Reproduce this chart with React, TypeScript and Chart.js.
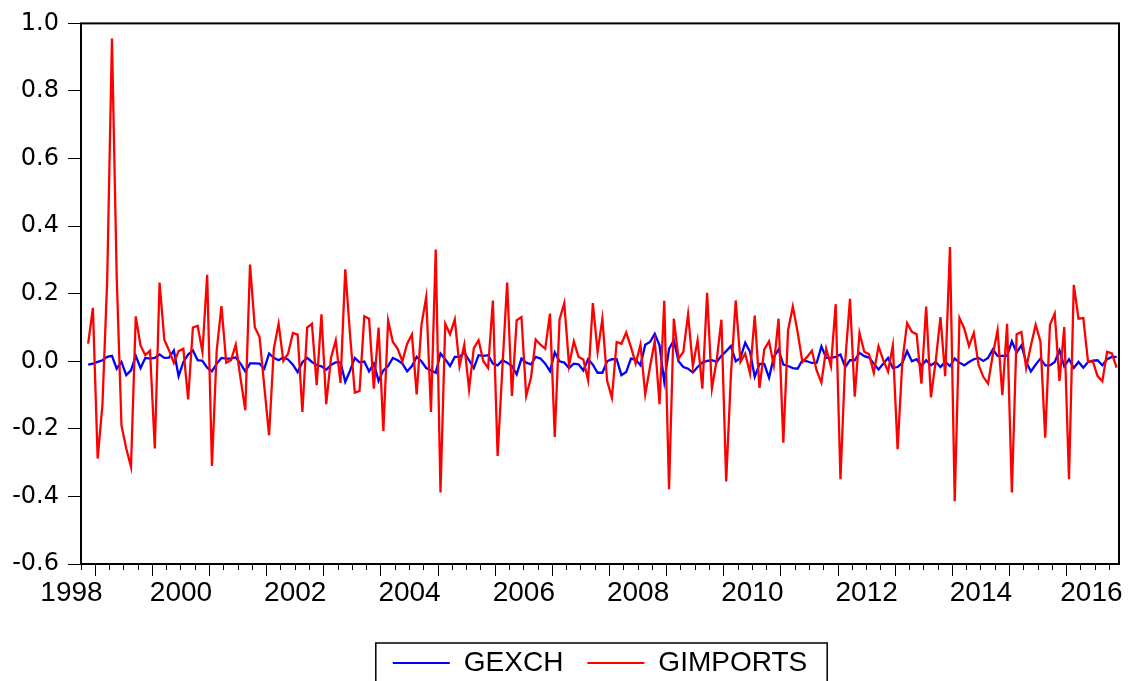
import React, { useEffect, useRef } from "react";
import { Chart, registerables } from "chart.js";

Chart.register(...registerables);

// ---- data ----
const startYear = 1998;
const startMonth = 11; // first observation: 1998M11
const seriesNames = ["GEXCH", "GIMPORTS"];
const yearLabels = ["1998", "2000", "2002", "2004", "2006", "2008", "2010", "2012", "2014", "2016"];
const yTickValues = [-0.6, -0.4, -0.2, 0.0, 0.2, 0.4, 0.6, 0.8, 1.0];

const gexch: number[] = [
  -0.010, -0.007, -0.002, 0.003, 0.013, 0.016, -0.022, -0.002, -0.041, -0.027, 0.016, -0.020,
  0.010, 0.008, 0.010, 0.020, 0.010, 0.011, 0.032, -0.044, -0.002, 0.020, 0.032, 0.003,
  0.001, -0.019, -0.030, -0.007, 0.010, 0.008, 0.008, 0.012, -0.007, -0.030, -0.006, -0.006,
  -0.007, -0.022, 0.023, 0.010, 0.003, 0.012, 0.005, -0.010, -0.032, -0.003, 0.010, -0.002,
  -0.011, -0.015, -0.025, -0.011, -0.003, -0.003, -0.061, -0.028, 0.010, -0.003, -0.001, -0.030,
  -0.007, -0.058, -0.027, -0.014, 0.010, 0.003, -0.007, -0.030, -0.014, 0.013, 0.000, -0.020,
  -0.027, -0.034, 0.023, 0.006, -0.014, 0.013, 0.013, 0.026, 0.003, -0.020, 0.018, 0.016,
  0.018, -0.007, -0.012, 0.003, -0.004, -0.014, -0.039, 0.008, -0.004, -0.009, 0.013, 0.008,
  -0.007, -0.029, 0.026, 0.000, -0.004, -0.020, -0.007, -0.009, -0.027, 0.006, -0.010, -0.034,
  -0.034, 0.000, 0.006, 0.006, -0.041, -0.032, 0.008, 0.005, -0.012, 0.049, 0.057, 0.081,
  0.047, -0.061, 0.037, 0.062, 0.000, -0.017, -0.022, -0.033, -0.017, -0.004, 0.001, 0.003,
  -0.002, 0.016, 0.030, 0.045, 0.000, 0.010, 0.055, 0.028, -0.046, -0.008, -0.008, -0.049,
  0.013, 0.035, -0.010, -0.014, -0.020, -0.022, 0.003, 0.000, -0.005, -0.005, 0.044, 0.010,
  0.010, 0.013, 0.020, -0.017, 0.003, 0.003, 0.025, 0.015, 0.011, -0.007, -0.024, -0.007,
  0.010, -0.020, -0.017, -0.005, 0.030, 0.000, 0.006, -0.014, 0.003, -0.012, -0.002, -0.017,
  -0.002, -0.014, 0.008, -0.004, -0.012, -0.002, 0.006, 0.010, 0.001, 0.010, 0.035, 0.016,
  0.016, 0.016, 0.059, 0.026, 0.047, -0.002, -0.030, -0.010, 0.008, -0.012, -0.012, -0.002,
  0.032, -0.015, 0.006, -0.020, -0.002, -0.019, -0.002, 0.002, 0.003, -0.012, 0.006, 0.013,
  0.013,
];

const gimports: number[] = [
  0.052, 0.158, -0.288, -0.130, 0.240, 0.955, 0.250, -0.190, -0.258, -0.312, 0.133, 0.047,
  0.018, 0.031, -0.258, 0.233, 0.064, 0.032, -0.005, 0.030, 0.037, -0.113, 0.100, 0.105,
  0.028, 0.256, -0.310, 0.032, 0.163, -0.004, 0.003, 0.049, -0.050, -0.145, 0.286, 0.101,
  0.072, -0.075, -0.219, 0.037, 0.111, 0.001, 0.023, 0.084, 0.079, -0.150, 0.100, 0.111,
  -0.071, 0.139, -0.127, 0.010, 0.062, -0.064, 0.272, 0.080, -0.093, -0.088, 0.133, 0.126,
  -0.081, 0.100, -0.206, 0.121, 0.057, 0.037, 0.000, 0.052, 0.079, -0.098, 0.108, 0.190,
  -0.150, 0.331, -0.388, 0.111, 0.080, 0.124, -0.015, 0.049, -0.083, 0.039, 0.062, 0.000,
  -0.020, 0.180, -0.280, -0.020, 0.233, -0.103, 0.121, 0.131, -0.103, -0.049, 0.064, 0.049,
  0.037, 0.141, -0.224, 0.124, 0.172, -0.012, 0.059, 0.013, 0.005, -0.056, 0.172, 0.028,
  0.126, -0.058, -0.108, 0.057, 0.052, 0.085, 0.042, -0.007, 0.049, -0.098, -0.017, 0.060,
  -0.127, 0.179, -0.379, 0.126, 0.008, 0.028, 0.139, -0.015, 0.062, -0.081, 0.203, -0.081,
  0.003, 0.123, -0.356, -0.040, 0.180, -0.002, 0.023, -0.036, 0.135, -0.079, 0.035, 0.059,
  -0.012, 0.126, -0.241, 0.092, 0.162, 0.087, -0.002, 0.013, 0.031, -0.027, -0.063, 0.037,
  -0.015, 0.169, -0.349, 0.000, 0.185, -0.105, 0.084, 0.028, 0.021, -0.034, 0.044, 0.003,
  -0.030, 0.047, -0.260, 0.000, 0.113, 0.087, 0.080, -0.066, 0.162, -0.107, 0.000, 0.131,
  -0.044, 0.338, -0.414, 0.128, 0.097, 0.045, 0.084, -0.010, -0.046, -0.066, 0.020, 0.092,
  -0.100, 0.111, -0.388, 0.080, 0.087, -0.020, 0.047, 0.108, 0.059, -0.226, 0.108, 0.141,
  -0.058, 0.101, -0.349, 0.226, 0.126, 0.128, -0.002, 0.000, -0.044, -0.059, 0.028, 0.023,
  -0.019,
];

// month labels (categories) for every observation
const months: string[] = gexch.map((_, i) => {
  const m = startMonth - 1 + i;
  return `${startYear + Math.floor(m / 12)}M${String((m % 12) + 1).padStart(2, "0")}`;
});

// ---- styling ----
const AXIS_FONT = "'Liberation Sans', Arial, sans-serif";
const Y_FONT = "'DejaVu Sans', 'Liberation Sans', sans-serif";

type XTick = { value: number; kind: "year" | "quarter" | "label"; lbl?: string };

function buildXTicks(min: number, max: number): XTick[] {
  const marks: XTick[] = [];
  for (let i = Math.ceil(min); i <= Math.floor(max) + 1; i++) {
    const v = i - 0.5; // boundary between observation i-1 and i
    if (v < min - 1e-9 || v > max + 1e-9) continue;
    const mAbs = startMonth - 1 + i;
    const mon = ((mAbs % 12) + 12) % 12;
    if (mon % 3 !== 0) continue;
    marks.push({ value: v, kind: mon === 0 ? "year" : "quarter" });
  }
  const labels: XTick[] = yearLabels.map((y) => {
    const yr = Number(y);
    // centre of the year (1 July boundary)
    let c = (yr - startYear) * 12 + 6 - (startMonth - 1) - 0.5;
    c = Math.max(c, min - 2);
    c = Math.min(c, max - 5.8);
    return { value: c, kind: "label", lbl: y };
  });
  return [...marks, ...labels];
}

const framePlugin = {
  id: "eviewsFrame",
  afterDraw(chart: any) {
    const { ctx, chartArea: a } = chart;
    ctx.save();
    ctx.strokeStyle = "#000";
    ctx.lineWidth = 2;
    ctx.strokeRect(a.left, a.top, a.right - a.left, a.bottom - a.top);
    const lg = chart.legend;
    if (lg && lg.legendHitBoxes && lg.legendHitBoxes.length) {
      const hb = lg.legendHitBoxes;
      const first = hb[0];
      const last = hb[hb.length - 1];
      const x0 = first.left - 17;
      const x1 = last.left + last.width + 20;
      const y0 = first.top + first.height / 2 - 20;
      ctx.lineWidth = 1.5;
      ctx.strokeRect(x0, y0, x1 - x0, 80);
    }
    ctx.restore();
  },
};

export default function App() {
  const canvasRef = useRef<HTMLCanvasElement | null>(null);

  useEffect(() => {
    document.body.style.margin = "0";
    document.body.style.overflow = "hidden";
    const canvas = canvasRef.current;
    if (!canvas) return;

    const chart = new Chart(canvas, {
      type: "line",
      data: {
        labels: months,
        datasets: [
          {
            label: seriesNames[0],
            data: gexch.map((y, i) => ({ x: i, y })),
            borderColor: "#0000FF",
            backgroundColor: "#0000FF",
            borderWidth: 2.3,
            pointRadius: 0,
            tension: 0,
            order: 1,
          },
          {
            label: seriesNames[1],
            data: gimports.map((y, i) => ({ x: i, y })),
            borderColor: "#FF0000",
            backgroundColor: "#FF0000",
            borderWidth: 2.3,
            pointRadius: 0,
            tension: 0,
            order: 0,
          },
        ],
      },
      options: {
        animation: false,
        responsive: false,
        devicePixelRatio: 1,
        events: [],
        layout: { padding: { left: 0, right: 20, top: 23, bottom: -6 } },
        scales: {
          x: {
            type: "linear",
            position: "bottom",
            min: -1.5,
            max: gexch.length - 0.5,
            border: { display: false },
            afterBuildTicks: (scale: any) => {
              scale.ticks = buildXTicks(scale.min, scale.max);
            },
            afterFit: (scale: any) => {
              scale.height = 61;
            },
            grid: {
              drawOnChartArea: false,
              drawTicks: true,
              tickLength: 12,
              tickWidth: 1,
              tickColor: (ctx: any) => (ctx.tick && ctx.tick.kind === "label" ? "rgba(0,0,0,0)" : "#000"),
              tickBorderDash: (ctx: any) => (ctx.tick && ctx.tick.kind === "quarter" ? [6, 40] : []),
            },
            ticks: {
              autoSkip: false,
              maxRotation: 0,
              minRotation: 0,
              padding: 0,
              color: "#000",
              font: { family: AXIS_FONT, size: 28 },
              callback: (_v: any, index: number, ticks: any[]) => (ticks[index] && ticks[index].lbl) || "",
            },
          },
          y: {
            type: "linear",
            min: -0.6,
            max: 1.0,
            border: { display: false },
            afterBuildTicks: (scale: any) => {
              scale.ticks = yTickValues.map((v) => ({ value: v }));
            },
            afterFit: (scale: any) => {
              scale.width = 81;
            },
            grid: {
              drawOnChartArea: false,
              tickLength: 13,
              tickWidth: 1,
              tickColor: "#000",
            },
            ticks: {
              padding: 9,
              color: "#000",
              font: { family: Y_FONT, size: 24 },
              callback: (v: any) => Number(v).toFixed(1),
            },
          },
        },
        plugins: {
          title: { display: false },
          tooltip: { enabled: false },
          legend: {
            display: true,
            position: "bottom",
            fullSize: false,
            labels: {
              boxWidth: 57,
              boxHeight: 2,
              padding: 24,
              color: "#000",
              font: { family: AXIS_FONT, size: 28 },
              sort: (a: any, b: any) => a.datasetIndex - b.datasetIndex,
              generateLabels: (ch: any) =>
                (Chart.defaults.plugins.legend.labels.generateLabels as any)(ch).map((it: any) => ({
                  ...it,
                  lineWidth: 0,
                })),
            },
          },
        },
      },
      plugins: [framePlugin],
    } as any);

    return () => chart.destroy();
  }, []);

  return (
    <div style={{ width: 1139, height: 681, background: "#fff", overflow: "hidden" }}>
      <canvas ref={canvasRef} width={1139} height={681} style={{ display: "block" }} />
    </div>
  );
}
